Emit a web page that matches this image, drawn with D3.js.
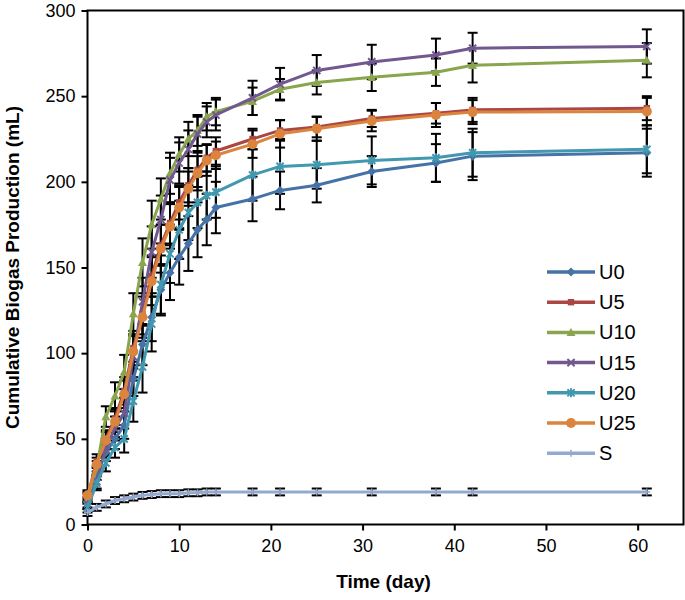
<!DOCTYPE html>
<html><head><meta charset="utf-8">
<script src="https://cdn.jsdelivr.net/npm/d3@7"></script>
<style>body{margin:0;background:#fff}svg{display:block}text{font-family:"Liberation Sans",Arial,sans-serif}</style>
</head><body>
<svg id="chart" width="685" height="600"></svg>
<script>
const days = [0,1,2,3,4,5,6,7,8,9,10,11,12,13,14,18,21,25,31,38,42,61];
const seriesNames = ["U0","U5","U10","U15","U20","U25","S"];
const U0  = [13,30,42,50,58,85,105,121,137,147,156,164,172,178,185,190,195,198,206,211,215,217];
const U5  = [16,37,50,62,78,103,123,145,163,176,188,198,207,214,218,225,230,232,237,240,242,243];
const U10 = [15,33,63,75,89,123,153,175,190,205,216,225,230,238,241,247,254,258,261,264,268,271];
const U15 = [12,25,45,56,65,98,130,159,178,201,211,219,228,235,239,249,257,265,270,274,278,279];
const U20 = [10,24,36,45,50,72,92,117,140,158,172,182,188,192,194,204,209,210,212.5,214,217,219];
const U25 = [17,35,49,60,76,101,121,142,161,174,185,196,205,212.5,215.5,222,228,231,235.5,239,240.7,241];
const S   = [7,10,12,14,15,16,17,17.5,18,18,18,18.5,18.5,19,19,19,19,19,19,19,19,19];
const errU0  = [3,4,5,6,8,10,12,14,15,16,16,16,16,15,15,13,11,10,9,11,14,14];
const errU5  = [3,4,5,6,8,10,12,12,12,12,10,10,10,8,8,6,6,6,5,6,7,7];
const errU10 = [3,4,6,8,10,12,14,14,12,12,10,10,9,8,8,8,6,7,8,8,10,10];
const errU15 = [3,4,5,7,9,12,14,15,14,13,12,11,10,9,9,10,9.5,9,10,9.6,9,10];
const errU20 = [3,4,5,6,8,12,15,16,17,17,17,16,15,14,15,15,16,14,14,14,14,14];
const errU25 = [3,4,5,6,8,10,12,14,14,13,12,10,10,9,8,8,8,7,6,7,7,8];
const errS   = [2,2,2,2,2,2,2,2,2,2,2,2,2,2,2,2,2,2,2,2,2,2];
const xTicks = [0,10,20,30,40,50,60];
const yTicks = [0,50,100,150,200,250,300];
const xTitle = "Time (day)";
const yTitle = "Cumulative Biogas Production (mL)";

const colors = ["#4572A7","#AA4643","#89A54E","#71588F","#4198AF","#DB843D","#93A9CF"];
const markers = ["diamond","square","triangle","x","star","circle","plus"];
const values = [U0,U5,U10,U15,U20,U25,S];
const errs = [errU0,errU5,errU10,errU15,errU20,errU25,errS];

const svg = d3.select("#chart");
const L = 87.5, R = 683.5, T = 10.5, B = 524.5;
const x = d3.scaleLinear().domain([0,65]).range([L,R]);
const y = d3.scaleLinear().domain([0,300]).range([B,T]);

// axes
const gx = svg.append("g").attr("transform",`translate(0,${B})`)
  .call(d3.axisBottom(x).tickValues(xTicks).tickSize(6).tickPadding(9).tickFormat(d3.format("d")));
const gy = svg.append("g").attr("transform",`translate(${L},0)`)
  .call(d3.axisLeft(y).tickValues(yTicks).tickSize(6).tickPadding(6).tickFormat(d3.format("d")));
[gx,gy].forEach(g=>{
  g.select(".domain").remove();
  g.selectAll(".tick line").attr("stroke","#000").attr("stroke-width",2);
  g.selectAll(".tick text").attr("font-size",18).attr("fill","#000")
   .attr("font-family",'"Liberation Sans",Arial,sans-serif');
});
svg.append("rect").attr("x",L).attr("y",T).attr("width",R-L).attr("height",B-T)
  .attr("fill","none").attr("stroke","#000").attr("stroke-width",2);

// error bars
const cap = 5;
values.forEach((vals,si)=>{
  const g = svg.append("g").attr("stroke","#000").attr("stroke-width",2);
  vals.forEach((v,i)=>{
    const e = errs[si][i], cx = x(days[i]);
    g.append("line").attr("x1",cx).attr("x2",cx).attr("y1",y(v-e)).attr("y2",y(v+e));
    g.append("line").attr("x1",cx-cap).attr("x2",cx+cap).attr("y1",y(v-e)).attr("y2",y(v-e));
    g.append("line").attr("x1",cx-cap).attr("x2",cx+cap).attr("y1",y(v+e)).attr("y2",y(v+e));
  });
});

function drawMarker(g, type, cx, cy, color, s){
  if(type==="diamond"){
    g.append("path").attr("d",`M${cx},${cy-s}L${cx+s},${cy}L${cx},${cy+s}L${cx-s},${cy}Z`).attr("fill",color);
  } else if(type==="square"){
    g.append("rect").attr("x",cx-s*0.8).attr("y",cy-s*0.8).attr("width",s*1.6).attr("height",s*1.6).attr("fill",color);
  } else if(type==="triangle"){
    g.append("path").attr("d",`M${cx},${cy-s}L${cx+s},${cy+s*0.8}L${cx-s},${cy+s*0.8}Z`).attr("fill",color);
  } else if(type==="circle"){
    g.append("circle").attr("cx",cx).attr("cy",cy).attr("r",s).attr("fill",color);
  } else if(type==="x"){
    g.append("path").attr("d",`M${cx-s*0.8},${cy-s*0.8}L${cx+s*0.8},${cy+s*0.8}M${cx-s*0.8},${cy+s*0.8}L${cx+s*0.8},${cy-s*0.8}`)
     .attr("stroke",color).attr("stroke-width",2);
  } else if(type==="star"){
    g.append("path").attr("d",`M${cx-s*0.8},${cy-s*0.8}L${cx+s*0.8},${cy+s*0.8}M${cx-s*0.8},${cy+s*0.8}L${cx+s*0.8},${cy-s*0.8}M${cx},${cy-s}L${cx},${cy+s}`)
     .attr("stroke",color).attr("stroke-width",2);
  } else if(type==="plus"){
    g.append("path").attr("d",`M${cx-s},${cy}L${cx+s},${cy}M${cx},${cy-s}L${cx},${cy+s}`)
     .attr("stroke",color).attr("stroke-width",1.5);
  }
}
const msize = [4.5,4,4.5,4.5,4.5,5,3.5];

// lines
values.forEach((vals,si)=>{
  const line = d3.line().x((d,i)=>x(days[i])).y(d=>y(d));
  svg.append("path").datum(vals).attr("d",line).attr("fill","none")
    .attr("stroke",colors[si]).attr("stroke-width",3).attr("stroke-linejoin","round");
  const g = svg.append("g");
  vals.forEach((v,i)=>drawMarker(g,markers[si],x(days[i]),y(v),colors[si],msize[si]));
});

// legend
const lg = svg.append("g");
seriesNames.forEach((n,i)=>{
  const yy = 272 + i*30.2;
  lg.append("line").attr("x1",547).attr("x2",595).attr("y1",yy).attr("y2",yy)
    .attr("stroke",colors[i]).attr("stroke-width",3.5);
  drawMarker(lg,markers[i],571,yy,colors[i],msize[i]);
  lg.append("text").attr("x",599).attr("y",yy+7).attr("font-size",20).attr("fill","#000").text(n);
});

// titles
svg.append("text").attr("x",(L+R)/2 - 2).attr("y",588).attr("text-anchor","middle")
  .attr("font-size",19).attr("font-weight","bold").text(xTitle);
svg.append("text").attr("transform",`translate(19,${(T+B)/2}) rotate(-90)`).attr("text-anchor","middle")
  .attr("font-size",19).attr("font-weight","bold").text(yTitle);
</script>
</body></html>
